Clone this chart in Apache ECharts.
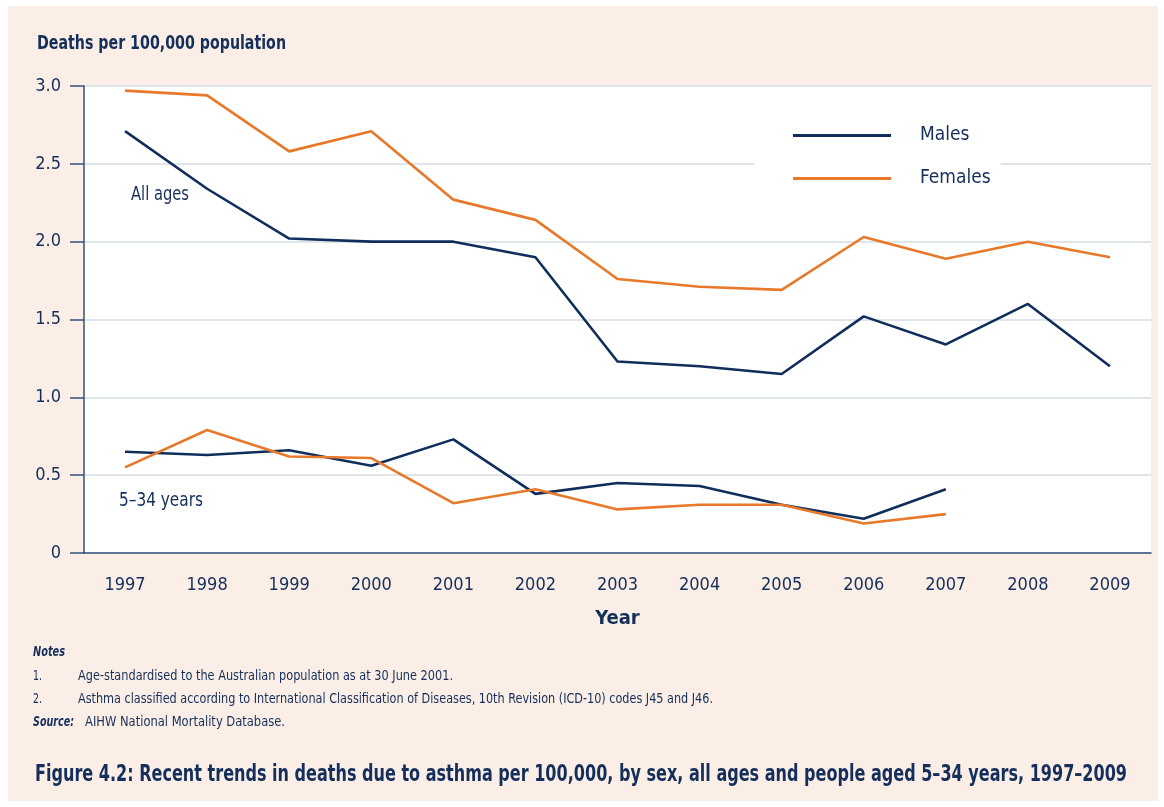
<!DOCTYPE html>
<html><head><meta charset="utf-8">
<script src="https://cdn.jsdelivr.net/npm/echarts@6/dist/echarts.min.js"></script>
<style>
html,body{margin:0;padding:0;background:#fff;width:1164px;height:807px;overflow:hidden}
#bg{position:absolute;left:8px;top:6px;width:1150px;height:795px;background:#FAEEE6}
#chart{position:absolute;left:0;top:0;width:1164px;height:807px}
</style></head>
<body><div id="bg"></div><div id="chart"></div>
<script>
const years = ['1997','1998','1999','2000','2001','2002','2003','2004','2005','2006','2007','2008','2009'];
const malesAll = [2.71,2.34,2.02,2.00,2.00,1.90,1.23,1.20,1.15,1.52,1.34,1.60,1.20];
const femalesAll = [2.97,2.94,2.58,2.71,2.27,2.14,1.76,1.71,1.69,2.03,1.89,2.00,1.90];
const males534 = [0.65,0.63,0.66,0.56,0.73,0.38,0.45,0.43,0.31,0.22,0.41,null,null];
const females534 = [0.55,0.79,0.62,0.61,0.32,0.41,0.28,0.31,0.31,0.19,0.25,null,null];
const yTicks = ['0','0.5','1.0','1.5','2.0','2.5','3.0'];

const NAVY = '#0F2E5C';
const ORANGE = '#E8782A';
const TXT = '#142F5B';
const FONT = '"Liberation Sans Narrow","DejaVu Sans Condensed",sans-serif';

const mctx = document.createElement('canvas').getContext('2d');
function txt(text, font, x, y, targetW){
  mctx.font = font;
  const w = mctx.measureText(text).width;
  const s = targetW ? targetW / w : 1;
  return {type:'text', x:x, y:y, scaleX:s, originX:0, originY:0,
    style:{text:text, fill:TXT, font:font, align:'left', verticalAlign:'middle'}};
}

const chart = echarts.init(document.getElementById('chart'), null, {renderer:'canvas'});
const lineStyle = (c)=>({color:c,width:2.6});
chart.setOption({
  animation:false,
  textStyle:{fontFamily:FONT},
  grid:{left:84,right:13,top:86,bottom:254,show:true,backgroundColor:'#fff',borderWidth:0},
  legend:{
    data:['Males','Females'],orient:'vertical',left:754,top:116,
    backgroundColor:'#fff',padding:[10,10,8,39],itemGap:24,
    icon:'rect',itemWidth:98,itemHeight:3,
    textStyle:{color:TXT,fontSize:19,fontFamily:FONT,padding:[0,0,0,24]}
  },
  xAxis:{
    type:'category',data:years,boundaryGap:true,
    axisLine:{lineStyle:{color:'#34507A',width:1.5}},
    axisTick:{alignWithLabel:true,length:15,lineStyle:{color:'#34507A',width:1.5}},
    axisLabel:{color:TXT,fontSize:18,margin:23,fontFamily:FONT},
    name:'Year',nameLocation:'middle',nameGap:56,
    nameTextStyle:{color:TXT,fontSize:20,fontWeight:'bold',fontFamily:FONT}
  },
  yAxis:{
    type:'value',min:0,max:3,interval:0.5,
    axisLine:{show:true,lineStyle:{color:'#34507A',width:1.5}},
    axisTick:{show:true,length:14,lineStyle:{color:'#34507A',width:1.5}},
    axisLabel:{color:TXT,fontSize:18,margin:23,fontFamily:FONT,
      formatter:(v)=>yTicks[Math.round(v/0.5)]},
    splitLine:{lineStyle:{color:'#D5DCE4',width:1.5}}
  },
  graphic:[
    txt('Deaths per 100,000 population','bold 20px '+FONT,37,44,249),
    txt('All ages','20px '+FONT,131,195,58),
    txt('5–34 years','20px '+FONT,119,501,84),
    txt('Notes','italic bold 14px '+FONT,33,652,32),
    txt('1.','14px '+FONT,33,676,9),
    txt('Age-standardised to the Australian population as at 30 June 2001.','14px '+FONT,78,676,375),
    txt('2.','14px '+FONT,33,699,9),
    txt('Asthma classified according to International Classification of Diseases, 10th Revision (ICD-10) codes J45 and J46.','14px '+FONT,78,699,635),
    txt('Source:','italic bold 14px '+FONT,33,722,41),
    txt('AIHW National Mortality Database.','14px '+FONT,85,722,200),
    txt('Figure 4.2: Recent trends in deaths due to asthma per 100,000, by sex, all ages and people aged 5–34 years, 1997–2009','bold 23px '+FONT,35,775,1092)
  ],
  series:[
    {name:'Males',type:'line',data:malesAll,symbol:'none',lineStyle:lineStyle(NAVY),itemStyle:{color:NAVY}},
    {name:'Females',type:'line',data:femalesAll,symbol:'none',lineStyle:lineStyle(ORANGE),itemStyle:{color:ORANGE}},
    {name:'Males',type:'line',data:males534,symbol:'none',lineStyle:lineStyle(NAVY),itemStyle:{color:NAVY}},
    {name:'Females',type:'line',data:females534,symbol:'none',lineStyle:lineStyle(ORANGE),itemStyle:{color:ORANGE}}
  ]
});
</script></body></html>
